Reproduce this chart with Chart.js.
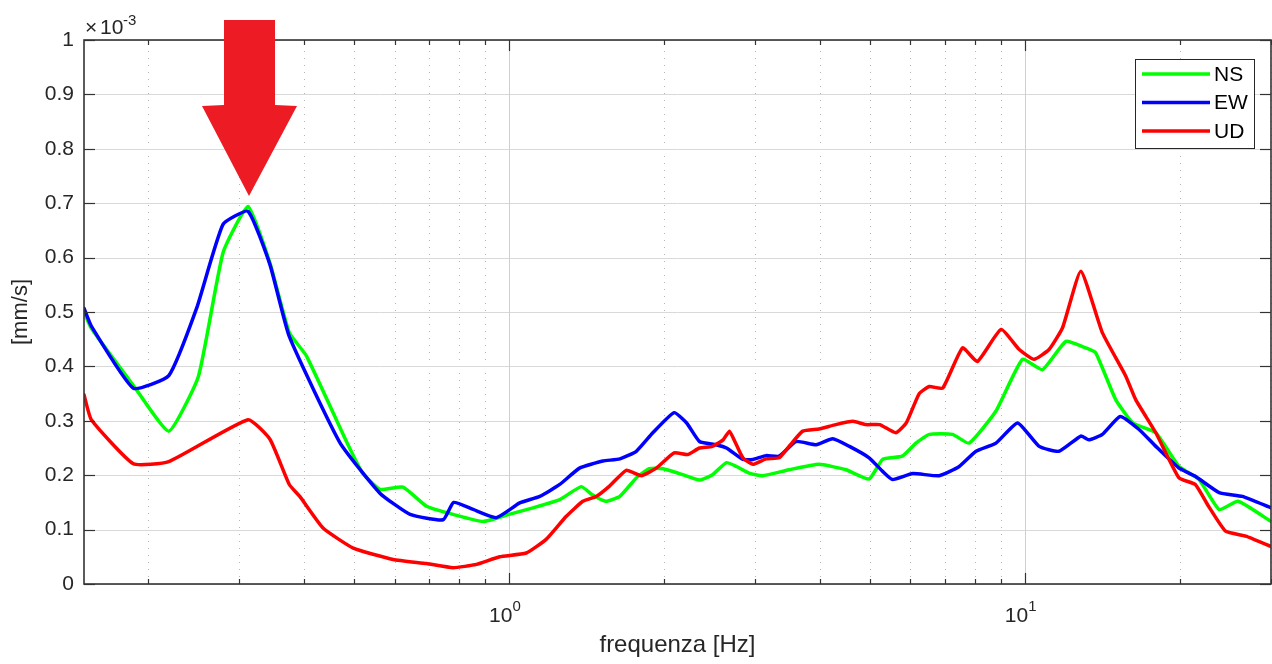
<!DOCTYPE html>
<html>
<head>
<meta charset="utf-8">
<title>Spettro HVSR</title>
<script src="https://cdn.jsdelivr.net/npm/chart.js@4.4.0/dist/chart.umd.min.js"></script>
<style>
    body { margin: 0; background: #fff; }
    canvas { display: block; }
</style>
</head>
<body>
<canvas id="spectrumChart" width="1272" height="664"></canvas>
<script>
// ====== DATA (values in mm/s x 10^-3) ======
const nsFreq = [0.15, 0.155, 0.187, 0.219, 0.25, 0.279, 0.312, 0.344, 0.375, 0.405, 0.484, 0.52, 0.562, 0.623, 0.692, 0.779, 0.891, 1.0, 1.113, 1.254, 1.38, 1.45, 1.54, 1.64, 1.765, 1.87, 1.99, 2.14, 2.34, 2.48, 2.64, 2.76, 2.92, 3.1, 3.49, 3.99, 4.5, 4.99, 5.3, 5.79, 6.15, 6.53, 7.24, 7.8, 8.79, 9.89, 10.82, 12.01, 13.12, 13.72, 15.0, 16.2, 17.94, 19.9, 21.76, 23.8, 25.9, 30];
const nsVal  = [0.500, 0.470, 0.365, 0.281, 0.382, 0.609, 0.694, 0.590, 0.462, 0.419, 0.262, 0.204, 0.174, 0.178, 0.143, 0.128, 0.115, 0.128, 0.140, 0.155, 0.179, 0.164, 0.152, 0.161, 0.195, 0.212, 0.212, 0.203, 0.191, 0.201, 0.223, 0.216, 0.204, 0.199, 0.210, 0.220, 0.210, 0.193, 0.229, 0.235, 0.259, 0.275, 0.275, 0.259, 0.318, 0.413, 0.394, 0.446, 0.434, 0.425, 0.339, 0.296, 0.278, 0.216, 0.192, 0.137, 0.152, 0.115];

const ewFreq = [0.15, 0.155, 0.187, 0.219, 0.248, 0.279, 0.312, 0.344, 0.375, 0.47, 0.562, 0.643, 0.745, 0.781, 0.852, 0.945, 1.049, 1.147, 1.254, 1.37, 1.52, 1.64, 1.765, 1.9, 2.09, 2.21, 2.34, 2.52, 2.64, 2.84, 2.97, 3.15, 3.34, 3.6, 3.94, 4.24, 4.57, 4.99, 5.3, 5.54, 6.06, 6.82, 7.46, 8.04, 8.79, 9.68, 10.66, 11.64, 12.84, 13.3, 14.13, 15.3, 16.65, 17.94, 19.9, 21.4, 23.8, 26.4, 30];
const ewVal  = [0.507, 0.474, 0.360, 0.383, 0.507, 0.661, 0.685, 0.587, 0.455, 0.260, 0.167, 0.128, 0.118, 0.150, 0.137, 0.122, 0.149, 0.161, 0.183, 0.213, 0.226, 0.230, 0.244, 0.278, 0.315, 0.296, 0.262, 0.256, 0.250, 0.229, 0.229, 0.236, 0.235, 0.262, 0.256, 0.267, 0.253, 0.232, 0.207, 0.192, 0.203, 0.199, 0.216, 0.244, 0.259, 0.296, 0.253, 0.244, 0.272, 0.265, 0.275, 0.308, 0.284, 0.253, 0.213, 0.198, 0.168, 0.161, 0.140];

const udFreq = [0.15, 0.155, 0.187, 0.219, 0.312, 0.344, 0.375, 0.393, 0.436, 0.499, 0.596, 0.692, 0.779, 0.865, 0.959, 1.08, 1.18, 1.29, 1.39, 1.476, 1.566, 1.688, 1.805, 1.93, 2.09, 2.22, 2.34, 2.48, 2.6, 2.675, 2.74, 2.84, 2.97, 3.15, 3.34, 3.49, 3.71, 3.99, 4.3, 4.64, 4.92, 5.23, 5.62, 5.89, 6.24, 6.53, 6.93, 7.57, 8.09, 8.99, 9.75, 10.42, 11.14, 11.83, 12.84, 14.13, 15.69, 16.4, 17.94, 19.9, 21.4, 22.7, 24.5, 26.8, 30];
const udVal  = [0.348, 0.302, 0.221, 0.225, 0.302, 0.266, 0.183, 0.161, 0.103, 0.066, 0.045, 0.0375, 0.030, 0.036, 0.050, 0.057, 0.082, 0.124, 0.152, 0.161, 0.180, 0.209, 0.199, 0.213, 0.241, 0.238, 0.250, 0.253, 0.265, 0.281, 0.262, 0.232, 0.220, 0.230, 0.232, 0.253, 0.281, 0.285, 0.293, 0.299, 0.293, 0.293, 0.278, 0.296, 0.350, 0.363, 0.360, 0.434, 0.409, 0.468, 0.431, 0.413, 0.431, 0.471, 0.575, 0.462, 0.382, 0.339, 0.278, 0.195, 0.183, 0.143, 0.097, 0.088, 0.069];

// axis ticks
const yTicks = [0, 0.1, 0.2, 0.3, 0.4, 0.5, 0.6, 0.7, 0.8, 0.9, 1];
const xMajorTicks = [1, 10];
const xMajorLabels = ['0', '1'];   // exponents of 10
const xMinorTicks = [0.2, 0.3, 0.4, 0.5, 0.6, 0.7, 0.8, 0.9, 2, 3, 4, 5, 6, 7, 8, 9, 20, 30];

const FONT = "'Liberation Sans', Arial, sans-serif";
const AXIS_COLOR = '#262626';

function toPoints(freq, val) {
    return freq.map((f, i) => ({ x: f, y: val[i] }));
}

// ====== MATLAB-LIKE FRAME, GRID, LEGEND, ARROW ======
const matlabFrame = {
    id: 'matlabFrame',
    beforeDatasetsDraw(chart) {
        const { ctx, chartArea: a, scales: { x, y } } = chart;
        ctx.save();
        ctx.lineWidth = 1;

        // minor x grid (dotted)
        ctx.strokeStyle = '#b5b5b5';
        ctx.setLineDash([1, 6]);
        xMinorTicks.forEach(v => {
            const px = Math.round(x.getPixelForValue(v)) + 0.5;
            ctx.beginPath(); ctx.moveTo(px, a.bottom); ctx.lineTo(px, a.top); ctx.stroke();
        });
        ctx.setLineDash([]);

        // major grid
        ctx.strokeStyle = '#d9d9d9';
        yTicks.forEach(v => {
            const py = Math.round(y.getPixelForValue(v)) + 0.5;
            ctx.beginPath(); ctx.moveTo(a.left, py); ctx.lineTo(a.right, py); ctx.stroke();
        });
        ctx.strokeStyle = '#cfcfcf';
        xMajorTicks.forEach(v => {
            const px = Math.round(x.getPixelForValue(v)) + 0.5;
            ctx.beginPath(); ctx.moveTo(px, a.bottom); ctx.lineTo(px, a.top); ctx.stroke();
        });
        ctx.restore();
    },
    afterDatasetsDraw(chart) {
        const { ctx, chartArea: a, scales: { x, y } } = chart;
        ctx.save();

        // box
        ctx.strokeStyle = '#333';
        ctx.lineWidth = 1.6;
        ctx.strokeRect(a.left, a.top, a.right - a.left, a.bottom - a.top);

        // tick marks (inside, all four sides)
        ctx.lineWidth = 1.2;
        const vTick = (px, len) => {
            ctx.beginPath(); ctx.moveTo(px, a.bottom); ctx.lineTo(px, a.bottom - len); ctx.stroke();
            ctx.beginPath(); ctx.moveTo(px, a.top); ctx.lineTo(px, a.top + len); ctx.stroke();
        };
        xMinorTicks.forEach(v => vTick(Math.round(x.getPixelForValue(v)) + 0.5, 5));
        xMajorTicks.forEach(v => vTick(Math.round(x.getPixelForValue(v)) + 0.5, 11));
        yTicks.forEach(v => {
            const py = Math.round(y.getPixelForValue(v)) + 0.5;
            ctx.beginPath(); ctx.moveTo(a.left, py); ctx.lineTo(a.left + 11, py); ctx.stroke();
            ctx.beginPath(); ctx.moveTo(a.right, py); ctx.lineTo(a.right - 11, py); ctx.stroke();
        });

        // x tick labels 10^n
        ctx.fillStyle = AXIS_COLOR;
        ctx.textBaseline = 'alphabetic';
        ctx.textAlign = 'left';
        xMajorTicks.forEach((v, i) => {
            const px = x.getPixelForValue(v);
            ctx.font = '21px ' + FONT;
            ctx.fillText('10', px - 20, a.bottom + 38);
            ctx.font = '15px ' + FONT;
            ctx.fillText(xMajorLabels[i], px + 3.5, a.bottom + 26.5);
        });

        // exponent label above y axis
        ctx.font = '21px ' + FONT;
        ctx.fillText('\u00d7', a.left + 1, 34);
        ctx.fillText('10', a.left + 16, 34);
        ctx.font = '15px ' + FONT;
        ctx.fillText('-3', a.left + 39, 25);

        // legend
        const lg = { x: 1135, y: 59, w: 119, h: 89 };
        ctx.fillStyle = '#fff';
        ctx.fillRect(lg.x, lg.y, lg.w, lg.h);
        ctx.strokeStyle = AXIS_COLOR;
        ctx.lineWidth = 1;
        ctx.strokeRect(lg.x + 0.5, lg.y + 0.5, lg.w, lg.h);
        ctx.font = '21px ' + FONT;
        ctx.textBaseline = 'middle';
        chart.data.datasets.forEach((ds, i) => {
            const ly = lg.y + 15 + i * 28.5;
            ctx.strokeStyle = ds.borderColor;
            ctx.lineWidth = 3.5;
            ctx.beginPath(); ctx.moveTo(lg.x + 7, ly); ctx.lineTo(lg.x + 75, ly); ctx.stroke();
            ctx.fillStyle = '#000';
            ctx.fillText(ds.label, lg.x + 79, ly + 1);
        });

        // red arrow annotation
        ctx.fillStyle = '#ed1c24';
        ctx.beginPath();
        ctx.moveTo(224, 20);
        ctx.lineTo(275, 20);
        ctx.lineTo(275, 105);
        ctx.lineTo(297, 106);
        ctx.lineTo(249, 196);
        ctx.lineTo(202, 106);
        ctx.lineTo(224, 105);
        ctx.closePath();
        ctx.fill();

        ctx.restore();
    }
};

// ====== CHART ======
const ctxSpectrum = document.getElementById('spectrumChart').getContext('2d');
new Chart(ctxSpectrum, {
    type: 'line',
    data: {
        datasets: [
            { label: 'NS', data: toPoints(nsFreq, nsVal), borderColor: '#00ff00', order: 3 },
            { label: 'EW', data: toPoints(ewFreq, ewVal), borderColor: '#0000ff', order: 2 },
            { label: 'UD', data: toPoints(udFreq, udVal), borderColor: '#ff0000', order: 1 }
        ]
    },
    options: {
        responsive: false,
        animation: false,
        layout: { padding: { top: 40, right: 1, left: 0, bottom: 0 } },
        elements: {
            line: { borderWidth: 3.5, tension: 0.15, borderJoinStyle: 'round', borderCapStyle: 'round' },
            point: { radius: 0 }
        },
        plugins: { legend: { display: false }, tooltip: { enabled: false } },
        scales: {
            x: {
                type: 'logarithmic',
                min: 0.15,
                max: 30,
                grid: { display: false, drawTicks: false },
                border: { display: false },
                ticks: { display: false },
                title: { display: true, text: 'frequenza [Hz]', color: AXIS_COLOR, font: { family: FONT, size: 24 }, padding: { top: 0, bottom: 4 } },
                afterFit: s => { s.height = 80; }
            },
            y: {
                min: 0,
                max: 1,
                grid: { display: false, drawTicks: false },
                border: { display: false },
                afterBuildTicks: s => { s.ticks = yTicks.map(v => ({ value: v })); },
                ticks: {
                    color: AXIS_COLOR,
                    font: { family: FONT, size: 21 },
                    padding: 10,
                    callback: v => String(Math.round(v * 10) / 10)
                },
                title: { display: true, text: '[mm/s]', color: AXIS_COLOR, font: { family: FONT, size: 22 }, padding: { top: 8, bottom: 0 } },
                afterFit: s => { s.width = 84; }
            }
        }
    },
    plugins: [matlabFrame]
});
</script>
</body>
</html>
